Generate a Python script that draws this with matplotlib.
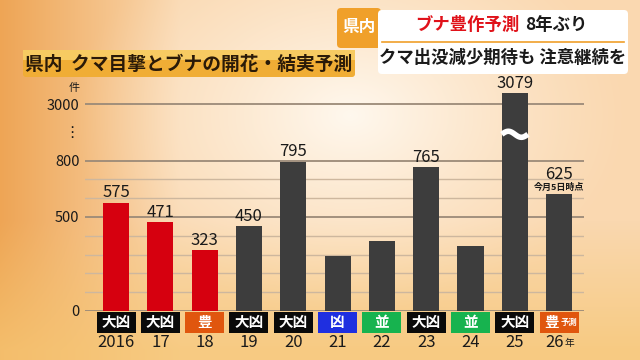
import numpy as np
import matplotlib
matplotlib.use("Agg")
import matplotlib.pyplot as plt
from matplotlib.patches import Rectangle, FancyBboxPatch

plt.rcParams['font.family'] = ['Noto Sans CJK JP', 'DejaVu Sans']

# data
years = ["2016", "17", "18", "19", "20", "21", "22", "23", "24", "25", "26"]
sightings = [575, 471, 323, 450, 795, 290, 375, 765, 345, 3079, 625]
shown_labels = ["575", "471", "323", "450", "795", "", "", "765", "", "3079", "625"]
forecast = ["大凶", "大凶", "豊", "大凶", "大凶", "凶", "並", "大凶", "並", "大凶", "豊"]
y_ticks = [0, 500, 800, 3000]

forecast_colors = {"大凶": "#0a0a0a", "豊": "#e0560e", "凶": "#1f2fe0", "並": "#17b34f"}


def pos(v):
    # broken axis: linear up to 800, then 3000 sits three steps higher
    return v if v <= 800 else 1100 + (v - 3000) * 0.75


fig = plt.figure(figsize=(6.4, 3.6), dpi=100)

# background gradient
H, W = 360, 640
yy, xx = np.mgrid[0:H, 0:W]
peach = np.array([250, 216, 176]) / 255
orange = np.array([238, 165, 85]) / 255
glow = np.array([255, 248, 238]) / 255
yellow = np.array([246, 198, 115]) / 255
img = np.ones((H, W, 3)) * peach
t_left = np.clip(1 - xx / 180, 0, 1)[..., None]
img = img * (1 - t_left) + orange * t_left
t_bot = np.clip((yy - 220) / 130, 0, 1)[..., None] * 0.75
img = img * (1 - t_bot) + yellow * t_bot
d = np.sqrt(((xx - 350) / 1.4) ** 2 + (yy - 115) ** 2)
t_glow = np.clip(1 - d / 200, 0, 1)[..., None] ** 1.2
img = img * (1 - t_glow) + glow * t_glow

bg = fig.add_axes([0, 0, 1, 1])
bg.imshow(img, extent=[0, W, H, 0], aspect='auto')
bg.set_xlim(0, W)
bg.set_ylim(H, 0)
bg.axis('off')

# title box
bg.add_patch(FancyBboxPatch((23, 50), 332, 27, boxstyle="round,pad=0,rounding_size=3",
                            fc="#f0ad35", ec="none"))
bg.add_patch(Rectangle((23, 50), 332, 10, fc="#f7cb62", ec="none"))
bg.text(189, 64, "県内  クマ目撃とブナの開花・結実予測", ha="center", va="center",
        fontsize=13.5, fontweight="bold", color="#2a1a08")

# top right header
bg.add_patch(FancyBboxPatch((337, 8), 44, 40, boxstyle="round,pad=0,rounding_size=4",
                            fc="#f0a02a", ec="none"))
bg.text(359, 27, "県内", ha="center", va="center", fontsize=12, fontweight="bold", color="white")
bg.add_patch(FancyBboxPatch((378, 10), 250, 64, boxstyle="round,pad=0,rounding_size=4",
                            fc="white", ec="none"))
bg.plot([382, 624], [42, 42], color="#f0a02a", lw=1.2)
bg.text(467, 25, "ブナ豊作予測", ha="center", va="center", fontsize=12.5, fontweight="bold", color="#e0121a")
bg.text(556, 25, "8年ぶり", ha="center", va="center", fontsize=12.5, fontweight="bold", color="#1a1a1a")
bg.text(503, 58, "クマ出没減少期待も 注意継続を", ha="center", va="center", fontsize=12.5,
        fontweight="bold", color="#1a1a1a")

# chart
ax = fig.add_axes([85 / 640, 49 / 360, 499 / 640, 225.6 / 360])
ax.patch.set_alpha(0)
x = np.arange(len(years))
ax.set_xlim(-0.70, 10.56)
ax.set_ylim(0, 1200)
for s in ax.spines.values():
    s.set_visible(False)

for g in [100, 200, 300, 400, 600, 700]:
    ax.axhline(g, color="#cdb79e", lw=1, zorder=1)
for g in y_ticks:
    ax.axhline(pos(g), color="#9b8a78", lw=1.3, zorder=1)

ax.set_xticks([])
ax.set_yticks([pos(v) for v in y_ticks])
ax.set_yticklabels([str(v) for v in y_ticks], fontsize=10.5, color="#1a1a1a")
ax.tick_params(axis="y", length=0, pad=4)

bar_colors = ["#d6000f"] * 3 + ["#3d3d3d"] * 8
heights = [pos(v) for v in sightings]
ax.bar(x, heights, width=0.59, color=bar_colors, zorder=2)

for i, lab in enumerate(shown_labels):
    if not lab:
        continue
    yl = heights[i] + 8
    if i == 10:
        yl += 48
    ax.text(x[i], yl, lab, ha="center", va="bottom", fontsize=12, color="#1a1a1a",
            clip_on=False)
ax.text(x[10], heights[10] + 8, "今月5日時点", ha="center", va="bottom", fontsize=6.5,
        fontweight="bold", color="#1a1a1a")

# wavy break on the tall bar
wx = np.linspace(x[9] - 0.295, x[9] + 0.295, 60)
wy = 940 + 16 * np.sin((wx - x[9]) * np.pi / 0.295 + np.pi)
ax.plot(wx, wy, color="white", lw=4, zorder=3, solid_capstyle="butt")

# forecast boxes and years
for i, f in enumerate(forecast):
    ax.add_patch(Rectangle((x[i] - 0.44, -117), 0.88, 111, fc=forecast_colors[f], ec="none",
                           clip_on=False, zorder=2))
    if i == 10:
        ax.text(x[i] - 0.17, -61, f, ha="center", va="center", fontsize=10.5, fontweight="bold",
                color="white", clip_on=False, zorder=3)
        ax.text(x[i] + 0.21, -61, "予測", ha="center", va="center", fontsize=6, fontweight="bold",
                color="white", clip_on=False, zorder=3)
    else:
        ax.text(x[i], -61, f, ha="center", va="center", fontsize=10.5, fontweight="bold",
                color="white", clip_on=False, zorder=3)
    ax.text(x[i] - (0.1 if i == 10 else 0), -165, years[i], ha="center", va="center",
            fontsize=12, color="#1a1a1a", clip_on=False)
ax.text(x[10] + 0.24, -170, "年", ha="center", va="center", fontsize=7, color="#1a1a1a",
        clip_on=False)

bg.text(74, 88, "件", ha="center", va="center", fontsize=8, color="#1a1a1a")
bg.text(72, 132, "⋮", ha="center", va="center", fontsize=11, color="#1a1a1a")

fig.savefig("out.png", dpi=100)
